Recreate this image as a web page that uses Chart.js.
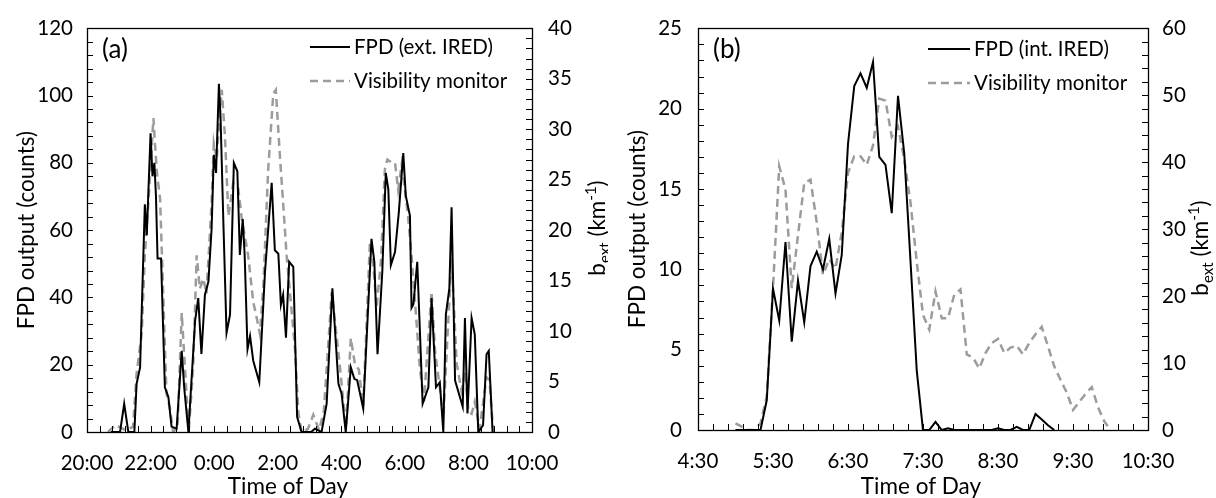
<!DOCTYPE html>
<html>
<head>
<meta charset="utf-8">
<script src="https://cdn.jsdelivr.net/npm/chart.js@4.4.1/dist/chart.umd.min.js"></script>
<style>
  html, body { margin: 0; padding: 0; background: #fff; }
  #wrap { position: relative; width: 1216px; height: 498px; }
  .panel { position: absolute; top: 0; width: 608px; height: 498px; }
</style>
</head>
<body>
<div id="wrap">
  <div class="panel" style="left:0"><canvas id="chartA" width="608" height="498"></canvas></div>
  <div class="panel" style="left:608px"><canvas id="chartB" width="608" height="498"></canvas></div>
</div>
<script>
// Panel (a): times in hours since midnight of the first day (after midnight = 24+)
const fpdTimesA = [20.75, 21.04, 21.17, 21.30, 21.49, 21.56, 21.67, 21.82, 21.88, 22.00, 22.06, 22.12, 22.17, 22.22, 22.33, 22.45, 22.56, 22.66, 22.82, 22.98, 23.06, 23.19, 23.40, 23.50, 23.60, 23.71, 23.82, 23.92, 23.99, 24.06, 24.15, 24.20, 24.29, 24.39, 24.50, 24.62, 24.73, 24.81, 24.90, 24.96, 25.05, 25.13, 25.23, 25.42, 25.60, 25.81, 25.91, 26.02, 26.10, 26.17, 26.26, 26.36, 26.49, 26.61, 26.75, 27.05, 27.17, 27.38, 27.54, 27.72, 27.91, 28.01, 28.14, 28.30, 28.41, 28.50, 28.69, 28.95, 29.04, 29.14, 29.29, 29.40, 29.48, 29.56, 29.69, 29.81, 29.95, 30.03, 30.16, 30.21, 30.27, 30.39, 30.56, 30.74, 30.84, 30.98, 31.10, 31.21, 31.29, 31.40, 31.47, 31.58, 31.67, 31.82, 31.89, 31.97, 32.10, 32.20, 32.31, 32.46, 32.57, 32.64, 32.76];
const fpdA = [0, 0, 8.4, 0, 0, 14.3, 19.2, 67.7, 58.5, 88.8, 76, 80, 70, 51.6, 51.6, 13.3, 10.4, 1.6, 1, 24.1, 13, 0, 33, 39.8, 23.2, 40.8, 44.7, 60.4, 82.4, 77, 103.5, 94, 62.4, 29.5, 34.9, 80, 77.5, 52.6, 63.3, 52.6, 24.6, 28.5, 21.2, 14.8, 47.6, 74.1, 54, 53, 37.8, 40.8, 28, 50.6, 49.1, 4.5, 0, 0, 1, 0, 8.4, 42.7, 14.3, 11.4, 0, 19.2, 15.8, 15.4, 7, 57.4, 50.6, 23.1, 47.6, 77, 72.1, 49.6, 53.5, 65.3, 82.9, 70.2, 64.3, 36.9, 38, 50.6, 8.4, 13.3, 39.8, 13.3, 14.8, 0, 34.9, 42.7, 66.8, 15.3, 12.4, 7.5, 33.9, 5.5, 33.9, 29, 0, 2, 23.1, 24.1, 0];

const visTimesA = [20.66, 20.90, 21.20, 21.45, 21.56, 21.72, 21.82, 21.93, 22.09, 22.15, 22.20, 22.30, 22.35, 22.50, 22.60, 22.71, 22.85, 22.98, 23.20, 23.34, 23.45, 23.55, 23.66, 23.76, 23.92, 23.99, 24.08, 24.18, 24.24, 24.34, 24.45, 24.60, 24.76, 24.87, 25.07, 25.23, 25.34, 25.44, 25.55, 25.70, 25.86, 25.94, 26.07, 26.17, 26.28, 26.42, 26.55, 26.65, 26.75, 26.95, 27.12, 27.30, 27.45, 27.70, 27.96, 28.06, 28.15, 28.30, 28.43, 28.55, 28.69, 28.90, 29.00, 29.11, 29.25, 29.37, 29.45, 29.58, 29.69, 29.79, 29.90, 30.00, 30.10, 30.21, 30.32, 30.47, 30.60, 30.84, 30.95, 31.10, 31.21, 31.35, 31.47, 31.63, 31.78, 31.90, 32.00, 32.10, 32.20, 32.35, 32.57, 32.66, 32.78];
const visA = [0, 0.7, 0.2, 0.5, 5.8, 9.7, 17.5, 22.7, 31.1, 28, 25.7, 23.1, 18.2, 3.8, 2.5, 0, 0.5, 11.8, 0, 6.4, 17.5, 14.2, 15.2, 13.7, 22.7, 28.6, 27, 31.6, 33.9, 29.3, 21.4, 24.7, 24.1, 21.1, 17.5, 12.9, 11.3, 9.7, 14.6, 26.0, 33.5, 33.9, 27.3, 22.7, 17.5, 12.6, 8, 1.9, 0, 0.3, 1.7, 0.2, 2, 13.9, 6.4, 3.1, 0.5, 9.3, 6.7, 6.2, 2.5, 18.8, 16.9, 12.3, 17, 26.0, 27.0, 26.7, 26.7, 24.0, 26.5, 24, 21.4, 17.5, 12.9, 6.4, 3, 13.9, 8, 4.4, 1.3, 10, 17.2, 6.8, 4.1, 6, 2, 1.8, 3, 0.3, 5.4, 5.2, 0];

const xTicksA = ['20:00', '22:00', '0:00', '2:00', '4:00', '6:00', '8:00', '10:00'];

// Panel (b): 5-minute samples
const timesB = ['5:00', '5:05', '5:10', '5:15', '5:20', '5:25', '5:30', '5:35', '5:40', '5:45', '5:50', '5:55',
  '6:00', '6:05', '6:10', '6:15', '6:20', '6:25', '6:30', '6:35', '6:40', '6:45', '6:50', '6:55',
  '7:00', '7:05', '7:10', '7:15', '7:20', '7:25', '7:30', '7:35', '7:40', '7:45', '7:50', '7:55',
  '8:00', '8:05', '8:10', '8:15', '8:20', '8:25', '8:30', '8:35', '8:40', '8:45', '8:50', '8:55',
  '9:00', '9:05', '9:10', '9:15', '9:20', '9:25', '9:30', '9:35', '9:40', '9:45', '9:50', '9:55', '10:00'];
const fpdB = [0, 0, 0, 0, 0, 1.85, 8.8, 6.8, 11.7, 5.5, 9.3, 6.7,
  10.2, 11.1, 10.0, 11.9, 8.5, 10.9, 17.8, 21.4, 22.2, 21.3, 22.9, 17.0,
  16.5, 13.5, 20.8, 17.2, 10.5, 3.7, 0, 0, 0.5, 0, 0.1, 0,
  0, 0, 0, 0, 0, 0, 0.1, 0, 0, 0.2, 0, 0,
  1.0, 0.65, 0.3, 0, null, null, null, null, null, null, null, null, null];
const visB = [1.0, 0.5, 0, 0, 1.0, 5.0, 21.2, 39.4, 35.9, 21.2, 29.1, 36.9,
  37.4, 31.0, 23.2, 25.5, 24.1, 29.5, 38.4, 40.9, 40.9, 39.6, 42.5, 49.5,
  49.2, 43.8, 45.3, 40.4, 34.0, 25.1, 17.2, 15.0, 20.7, 16.7, 16.7, 20.2,
  21.0, 11.3, 10.8, 9.2, 11.5, 13.0, 13.6, 11.5, 12.3, 12.6, 11.3, 13.0,
  14.3, 15.4, 12.5, 9.5, 7.5, 5.6, 3.0, 4.2, 5.4, 6.4, 3.4, 1.3, 0];
const xTicksB = ['4:30', '5:30', '6:30', '7:30', '8:30', '9:30', '10:30'];

const FONT = 'Lato, "Open Sans", sans-serif';
Chart.defaults.font.family = FONT;
Chart.defaults.color = '#000';

function clockToHours(s) {
  const [h, m] = s.split(':').map(Number);
  return h + m / 60;
}
function toPoints(xs, ys) {
  return xs.map((x, i) => ({ x: x, y: ys[i] }));
}
function stepValues(min, max, step) {
  const n = Math.round((max - min) / step);
  const out = [];
  for (let i = 0; i <= n; i++) out.push(min + i * step);
  return out;
}

// frame, inside ticks, axis titles, legend and panel label
const framePlugin = {
  id: 'frame',
  afterDraw(chart, args, o) {
    const ctx = chart.ctx;
    const a = chart.chartArea;
    const sx = chart.scales.x, sy = chart.scales.y, sy2 = chart.scales.y2;
    const T = 6;
    ctx.save();
    ctx.strokeStyle = '#000';
    ctx.lineWidth = 1;
    ctx.beginPath();
    stepValues(sx.min, sx.max, o.minorX).forEach(v => {
      const p = Math.round(sx.getPixelForValue(v)) + 0.5;
      ctx.moveTo(p, a.bottom); ctx.lineTo(p, a.bottom - T);
    });
    stepValues(sy.min, sy.max, o.minorY).forEach(v => {
      const p = Math.round(sy.getPixelForValue(v)) + 0.5;
      ctx.moveTo(a.left, p); ctx.lineTo(a.left + T, p);
    });
    stepValues(sy2.min, sy2.max, o.minorY2).forEach(v => {
      const p = Math.round(sy2.getPixelForValue(v)) + 0.5;
      ctx.moveTo(a.right, p); ctx.lineTo(a.right - T, p);
    });
    ctx.stroke();
    ctx.lineWidth = 1.3;
    ctx.strokeRect(Math.round(a.left) + 0.5, Math.round(a.top) + 0.5, Math.round(a.right - a.left), Math.round(a.bottom - a.top));

    // panel label
    ctx.fillStyle = '#000';
    ctx.textBaseline = 'middle';
    ctx.textAlign = 'left';
    ctx.font = '26px ' + FONT;
    ctx.fillText(o.panel, a.left + o.panelDx, 50);

    // axis titles
    ctx.font = '22.5px ' + FONT;
    ctx.textAlign = 'center';
    ctx.fillText('Time of Day', o.xTitleX, o.xTitleY);
    ctx.save();
    ctx.translate(o.leftTitleX, (a.top + a.bottom) / 2);
    ctx.rotate(-Math.PI / 2);
    ctx.fillText('FPD output (counts)', 0, 0);
    ctx.restore();

    // right title b_ext (km^-1), reading upwards
    const parts = [['b', 22.5, 0], ['ext', 15, 5], [' (km', 22.5, 0], ['-1', 15, -9], [')', 22.5, 0]];
    let total = 0;
    parts.forEach(p => { ctx.font = p[1] + 'px ' + FONT; total += ctx.measureText(p[0]).width; });
    ctx.save();
    ctx.translate(o.rightTitleX, o.rightTitleY);
    ctx.rotate(-Math.PI / 2);
    ctx.textAlign = 'left';
    ctx.textBaseline = 'alphabetic';
    let cx = -total / 2;
    parts.forEach(p => {
      ctx.font = p[1] + 'px ' + FONT;
      ctx.fillText(p[0], cx, 8 + p[2]);
      cx += ctx.measureText(p[0]).width;
    });
    ctx.restore();

    // legend
    ctx.font = '20.5px ' + FONT;
    ctx.textAlign = 'left';
    ctx.textBaseline = 'middle';
    chart.data.datasets.forEach((ds, i) => {
      const y = o.legendY + i * o.legendDy;
      ctx.beginPath();
      ctx.setLineDash(ds.borderDash || []);
      ctx.strokeStyle = ds.borderColor;
      ctx.lineWidth = ds.borderWidth;
      ctx.moveTo(o.legendX0, y);
      ctx.lineTo(o.legendX1, y);
      ctx.stroke();
      ctx.setLineDash([]);
      ctx.fillStyle = '#000';
      ctx.fillText(ds.label, o.legendX1 + 4, y);
    });
    ctx.restore();
  }
};

function fixed(size) {
  return function (scale) {
    if (scale.isHorizontal()) scale.height = size; else scale.width = size;
  };
}

function makeChart(id, cfg) {
  return new Chart(document.getElementById(id), {
    type: 'line',
    data: {
      datasets: [
        {
          label: cfg.fpdLabel,
          data: cfg.fpd,
          yAxisID: 'y',
          borderColor: '#000000',
          borderWidth: 2,
          pointRadius: 0,
          tension: 0,
          spanGaps: false
        },
        {
          label: 'Visibility monitor',
          data: cfg.vis,
          yAxisID: 'y2',
          borderColor: '#9c9c9c',
          borderWidth: 2.5,
          borderDash: [8, 5],
          pointRadius: 0,
          tension: 0
        }
      ]
    },
    options: {
      responsive: false,
      animation: false,
      devicePixelRatio: 1,
      layout: { padding: { top: 24, left: 0, right: 0, bottom: 0 } },
      plugins: {
        legend: { display: false },
        tooltip: { enabled: false },
        frame: cfg.frame
      },
      scales: {
        x: {
          type: 'linear',
          min: cfg.xMin, max: cfg.xMax,
          afterFit: fixed(cfg.xHeight),
          grid: { display: false, drawTicks: false },
          border: { display: false },
          ticks: {
            stepSize: cfg.xStep, autoSkip: false, maxRotation: 0, padding: 19,
            font: { size: 20.5 },
            callback: cfg.xLabel
          }
        },
        y: {
          position: 'left',
          min: 0, max: cfg.yMax,
          afterFit: fixed(cfg.yLeftWidth),
          grid: { display: false, drawTicks: false },
          border: { display: false },
          ticks: { stepSize: cfg.yStep, padding: cfg.yPad, font: { size: 20.5 } }
        },
        y2: {
          position: 'right',
          min: 0, max: cfg.y2Max,
          afterFit: fixed(cfg.yRightWidth),
          grid: { display: false, drawTicks: false },
          border: { display: false },
          ticks: { stepSize: cfg.y2Step, padding: cfg.y2Pad, font: { size: 20.5 } }
        }
      }
    },
    plugins: [framePlugin]
  });
}

makeChart('chartA', {
  fpdLabel: 'FPD (ext. IRED)',
  fpd: toPoints(fpdTimesA, fpdA),
  vis: toPoints(visTimesA, visA),
  xMin: 20, xMax: 34, xStep: 2,
  xLabel: (v, i) => xTicksA[i],
  xHeight: 66, yLeftWidth: 87, yRightWidth: 76,
  yMax: 120, yStep: 20, yPad: 14,
  y2Max: 40, y2Step: 5, y2Pad: 16,
  frame: {
    minorX: 0.4, minorY: 4, minorY2: 1,
    panel: '(a)', panelDx: 15,
    xTitleX: 288, xTitleY: 487, leftTitleX: 27,
    rightTitleX: 597, rightTitleY: 228,
    legendX0: 310, legendX1: 350, legendY: 47, legendDy: 34
  }
});

makeChart('chartB', {
  fpdLabel: 'FPD (int. IRED)',
  fpd: toPoints(timesB.map(clockToHours), fpdB),
  vis: toPoints(timesB.map(clockToHours), visB),
  xMin: 4.5, xMax: 10.5, xStep: 1,
  xLabel: (v, i) => xTicksB[i],
  xHeight: 68, yLeftWidth: 90, yRightWidth: 68,
  yMax: 25, yStep: 5, yPad: 16,
  y2Max: 60, y2Step: 10, y2Pad: 14,
  frame: {
    minorX: 0.2, minorY: 1, minorY2: 2,
    panel: '(b)', panelDx: 15,
    xTitleX: 313, xTitleY: 487, leftTitleX: 30,
    rightTitleX: 592, rightTitleY: 248,
    legendX0: 320, legendX1: 362, legendY: 49, legendDy: 34
  }
});
</script>
</body>
</html>
